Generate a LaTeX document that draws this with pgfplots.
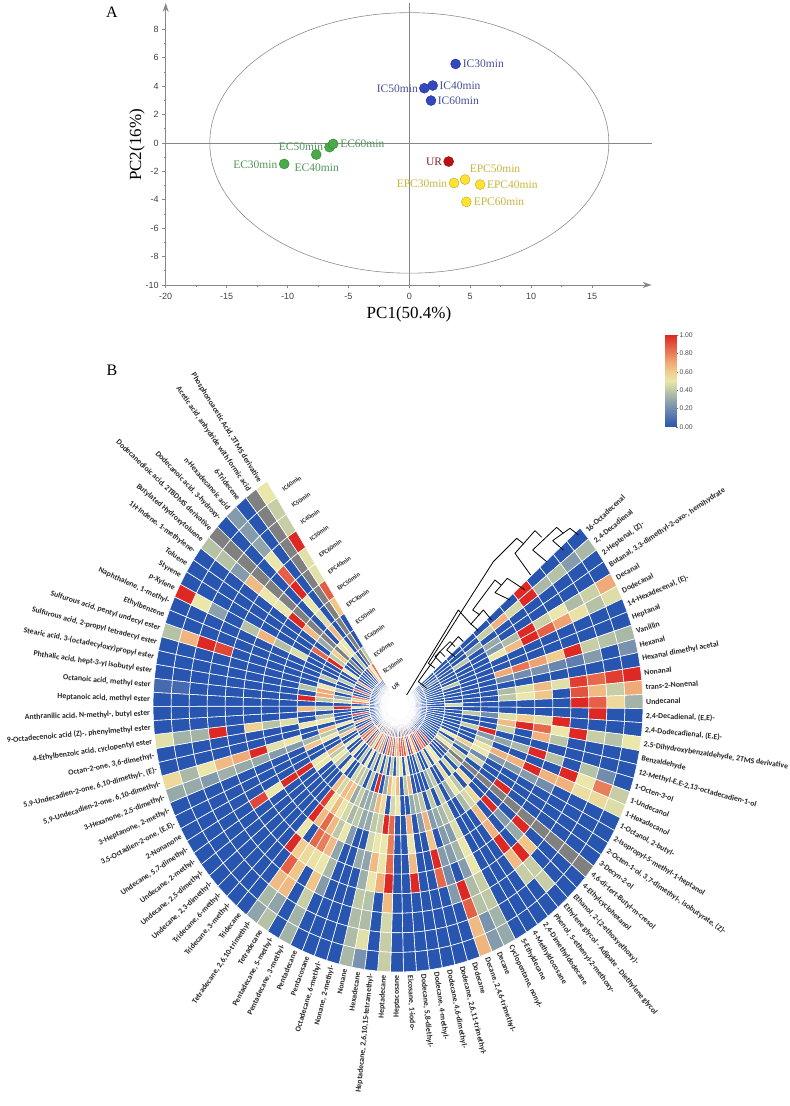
\documentclass[border=0pt]{standalone}
\usepackage{fontspec}
\setmainfont{Liberation Serif}
\setsansfont{Liberation Sans}
\newfontfamily\lblfont{Carlito}
\usepackage{pgfplots}
\usepackage{pgfplotstable}
\pgfplotsset{compat=1.18}
\usetikzlibrary{arrows.meta}

\definecolor{axgray}{RGB}{135,135,135}
\definecolor{icblue}{RGB}{52,72,190}
\definecolor{ecgreen}{RGB}{72,170,72}
\definecolor{urred}{RGB}{190,15,20}
\definecolor{epcyel}{RGB}{255,226,50}

\pgfplotsset{
  colormap={heatgray}{rgb255(0pt)=(128,128,128) rgb255(9pt)=(128,128,128)
    rgb255(10pt)=(40,85,175) rgb255(25pt)=(95,125,175) rgb255(40pt)=(150,170,170)
    rgb255(50pt)=(190,200,165) rgb255(60pt)=(235,230,170) rgb255(70pt)=(240,205,140)
    rgb255(80pt)=(240,170,120) rgb255(95pt)=(230,105,75) rgb255(110pt)=(222,40,35)},
  colormap={heatbar}{rgb255(0pt)=(40,85,175) rgb255(15pt)=(95,125,175) rgb255(30pt)=(150,170,170)
    rgb255(40pt)=(190,200,165) rgb255(50pt)=(235,230,170) rgb255(60pt)=(240,205,140)
    rgb255(70pt)=(240,170,120) rgb255(85pt)=(230,105,75) rgb255(100pt)=(222,40,35)},
}

% one row per compound (clockwise from 16-Octadecenal), one column per sample, -.1 = missing (grey)
\pgfplotstableread{
UR EC30 EC60 EC40 EC50 EPC30 EPC50 EPC40 EPC60 IC30 IC40 IC50 IC60
0 0 0 0 0 0 0 0 1 0 0 0 0
0 0 0 0 0 .42 .68 .45 1 .35 .38 .25 .35
0 0 0 0 .3 0 0 0 0 0 0 0 0
0 .2 0 .4 0 .3 0 0 0 0 0 0 0
0 0 0 0 0 .25 .36 1 .43 .5 .36 .43 .7
0 0 0 0 0 .5 .65 1 .87 .72 .52 .38 .47
0 0 0 0 0 0 0 0 0 0 0 0 0
0 0 .4 0 0 0 0 0 0 0 0 0 0
0 0 0 0 0 .7 .82 .72 .6 1 .42 .38 .35
0 0 0 0 0 .2 .2 .22 .18 .15 .25 0 .22
0 0 0 0 0 0 0 0 0 0 0 0 0
0 0 0 0 0 .36 .47 .65 .48 .95 .85 .95 1
0 0 0 0 0 .4 .5 .62 0 .9 .65 .42 .7
0 0 .45 0 0 0 0 0 0 1 .87 .55 .33
0 0 0 0 0 0 0 0 0 0 1 0 0
0 0 0 .4 .2 .47 .6 .47 1 0 0 0 0
0 0 0 0 0 .65 1 .85 .5 1 .42 .38 .5
0 0 0 0 0 .43 0 .68 .38 0 0 0 0
0 0 0 .42 1 0 0 0 0 0 0 0 0
0 0 0 0 .25 .28 .35 1 .38 0 .38 .2 0
0 0 0 0 .4 0 0 0 0 1 .5 .8 .42
0 0 0 0 .5 .68 .68 1 .68 .68 .53 .55 .47
0 0 .5 .6 .5 .25 .25 .25 .2 0 0 0 0
0 0 0 .3 .2 0 0 0 0 0 0 0 0
0 0 .4 0 .45 0 0 0 0 0 0 0 0
0 0 .5 .42 0 0 1 0 0 0 0 0 0
0 0 -.1 -.1 -.1 -.1 -.1 -.1 -.1 -.1 -.1 -.1 -.1
0 0 0 .4 0 0 0 0 1 0 0 0 0
0 0 0 0 .55 0 1 .25 .3 .62 0 0 0
0 .9 0 .45 0 .55 0 0 0 1 .42 .42 0
.8 0 .5 0 .4 .45 .65 .68 1 .65 .42 0 0
0 .9 .5 .55 .5 .35 0 0 0 0 0 0 0
0 .8 0 0 .3 0 0 0 0 0 0 0 0
.8 .9 .45 0 0 0 0 0 0 0 0 0 0
0 0 0 .4 .42 .42 .47 .5 .5 .42 .4 .33 .3
.8 .85 0 .3 0 .35 .25 .33 .25 .36 .38 .22 .25
0 .5 .4 0 .4 .3 .25 .25 0 1 .87 .65 .67
.8 .9 0 0 0 .25 0 .25 .2 .25 0 0 0
0 0 0 0 .4 .68 .62 1 .85 0 0 0 0
.8 .6 0 0 .35 .25 0 0 0 0 0 0 0
0 .9 .5 .65 .3 0 0 0 0 0 0 0 0
.7 .9 0 .4 0 .68 .5 .65 1 0 0 0 0
0 .9 .5 0 0 0 0 0 0 0 0 0 0
.7 .7 .45 .65 .5 0 0 0 0 0 0 0 0
0 .4 0 .5 .45 .85 .8 .85 1 .65 .45 .42 .42
.8 .9 .4 .65 0 1 .5 .5 .68 0 0 0 0
0 .3 0 .3 .55 .42 .5 .65 .5 .38 .36 .48 .22
.8 .9 .4 0 .65 .4 .45 .28 .32 .4 .36 .36 .35
0 .8 0 1 .35 .3 0 .3 0 0 0 0 0
.7 0 .45 0 .3 .3 0 0 0 0 0 0 0
0 .8 0 .4 .3 .4 .25 0 0 0 0 0 0
.7 .3 .4 0 .42 .35 .5 .28 .35 .25 0 0 0
0 .7 0 .4 .3 .45 .4 .65 .5 .62 .42 .33 .33
.8 .9 .5 .4 .62 .5 .65 .8 .52 0 0 0 0
0 .6 0 .45 .65 .65 .85 .85 .55 .62 .65 .28 .38
.7 .3 .4 0 .45 .5 .65 0 .6 .87 .65 .35 .28
0 .85 0 0 .65 .95 1 .5 1 0 0 0 0
.6 0 0 .5 0 0 0 0 0 0 0 0 0
0 .7 .5 0 0 0 0 0 0 0 0 0 0
.7 .9 0 .4 0 0 0 0 0 0 0 0 0
0 .8 0 .5 0 0 0 0 0 0 0 0 0
0 0 .5 .4 .5 0 0 0 0 0 0 0 0
0 0 0 .65 .5 1 1 .5 .93 0 0 0 0
0 .8 0 0 0 0 0 0 0 0 0 0 0
0 0 .6 0 0 0 0 0 0 0 0 0 0
0 0 .3 .5 .62 0 0 0 0 0 0 0 0
0 .7 0 .4 .35 .25 .25 .3 .3 .32 .25 .3 .3
0 0 .5 .65 0 .5 .48 1 .7 .65 .5 .35 .55
0 0 0 0 0 0 0 0 0 0 0 0 0
0 .9 0 .5 .5 0 0 0 0 0 0 0 0
0 0 0 .4 0 .47 .38 .58 0 1 .33 .33 .48
0 0 0 0 0 0 0 0 0 0 0 0 0
0 .5 1 .42 .65 0 0 0 0 0 0 0 0
0 0 0 0 0 0 0 0 0 0 0 0 0
0 .8 .45 .4 1 0 0 0 0 0 0 .08 .08
0 .6 .3 .7 0 0 0 0 0 0 0 0 0
0 .8 0 .7 .38 0 0 0 0 0 0 0 0
0 0 .4 .5 0 0 0 0 0 0 0 0 0
0 0 0 0 0 0 0 0 0 .93 1 .67 .38
0 .85 0 .4 0 0 0 0 0 0 0 0 0
0 0 .4 0 0 0 0 0 0 0 0 0 0
0 0 0 0 0 .47 .37 .67 .38 0 .27 .5 1
0 .7 0 0 0 0 0 0 0 0 0 0 0
0 0 .5 1 .85 0 0 0 0 0 0 0 0
0 0 0 .4 0 0 0 0 0 0 0 0 0
0 0 0 .6 .3 .65 1 .5 .5 .65 .25 .38 .38
0 0 -.1 -.1 -.1 -.1 -.1 -.1 -.1 -.1 -.1 -.1 -.1
0 0 0 .5 0 0 0 0 0 0 0 0 0
0 0 .4 .5 .65 .47 .5 1 .87 .5 .28 .25 .25
0 .7 0 0 0 0 0 0 0 0 0 0 0
0 .5 -.1 -.1 -.1 -.1 -.1 -.1 -.1 -.1 -.1 -.1 -.1
0 .85 .4 0 0 .62 .88 .48 .48 1 .42 .42 .5
}\heatdata

% every table cell becomes one patch, (angle,radius)[value]
\def\cellpts{}
\pgfplotsforeachungrouped \s in {0,...,91}{%
  \pgfmathsetmacro\ta{42-3.04*\s}%
  \pgfmathsetmacro\tb{42-3.04*(\s+1)}%
  \pgfplotsforeachungrouped \j in {0,...,12}{%
    \pgfplotstablegetelem{\s}{[index]\j}\of\heatdata
    \let\v\pgfplotsretval
    \pgfmathsetmacro\ra{.6+\j}%
    \pgfmathsetmacro\rb{1.6+\j}%
    \xdef\cellpts{\cellpts (\ta,\ra)[\v](\tb,\ra)[\v](\tb,\rb)[\v](\ta,\rb)[\v]}%
  }%
}
\newcommand\plotcells[1]{\addplot[patch,patch type=rectangle,data cs=polar,shader=faceted,
  faceted color=white,line width=.6pt,point meta=explicit] coordinates {#1};}

\begin{document}
\begin{tikzpicture}[x=1pt,y=1pt]
\useasboundingbox (0,0) rectangle (790,1106);

% --- panel A
\begin{axis}[at={(165.7pt,821pt)},anchor=south west,scale only axis,width=486pt,height=282pt,
  xmin=-20,xmax=19.9,ymin=-10,ymax=9.85,
  axis lines=left,axis line style={axgray,line width=.8pt,-{Stealth[length=9pt,width=6pt]}},
  xtick={-20,-15,...,15},ytick={-10,-8,...,8},
  minor x tick num=1,minor y tick num=1,
  tick align=outside,tick style={axgray,line width=.6pt},
  major tick length=3.5pt,minor tick length=2pt,
  /pgf/number format/assume math mode=true,
  tick label style={font=\sffamily\fontsize{9}{9}\selectfont,text=black!75},
  xticklabel style={yshift=-1pt},
  clip=false]
\draw[axgray,line width=.7pt] (axis cs:-20,0) -- (axis cs:19.9,0);
\draw[axgray,line width=.7pt] (axis cs:0,-10) -- (axis cs:0,9.85);
\draw[black!45,line width=.6pt] (axis cs:0,0) ellipse [x radius=16.38,y radius=9.17];
\addplot[only marks,mark=*,mark size=5pt,mark options={fill=icblue,draw=icblue!75!black}] coordinates {
(3.8,5.56) (1.92,4.04) (1.23,3.85) (1.78,2.98)};
\addplot[only marks,mark=*,mark size=5pt,mark options={fill=ecgreen,draw=ecgreen!75!black}] coordinates {
(-10.27,-1.48) (-7.64,-.82) (-6.55,-.3) (-6.25,-.07)};
\addplot[only marks,mark=*,mark size=5pt,mark options={fill=urred,draw=urred!75!black}] coordinates {
(3.23,-1.31)};
\addplot[only marks,mark=*,mark size=5pt,mark options={fill=epcyel,draw=epcyel!75!black}] coordinates {
(3.67,-2.82) (4.58,-2.58) (5.81,-2.93) (4.68,-4.15)};
\end{axis}

% labels of panel A, in picture units
\begin{scope}[font=\fontsize{11.5}{12}\selectfont]
\foreach \x/\y/\t in {483.3/64/IC30min,460/86/IC40min,397.3/88.3/IC50min,458.3/101/IC60min}
  \node[text={rgb,255:red,70;green,80;blue,150}] at (\x,1106-\y) {\t};
\foreach \x/\y/\t in {362.3/144/EC60min,301/147/EC50min,316.7/168/EC40min,255.3/164.7/EC30min}
  \node[text={rgb,255:red,80;green,150;blue,90}] at (\x,1106-\y) {\t};
\node[text={rgb,255:red,140;green,30;blue,40}] at (434,1106-161.7) {UR};
\foreach \x/\y/\t in {495/168.3/EPC50min,422/183.3/EPC30min,512.3/185/EPC40min,499/202/EPC60min}
  \node[text={rgb,255:red,200;green,180;blue,60}] at (\x,1106-\y) {\t};
\end{scope}
\node[font=\fontsize{17}{17}\selectfont] at (409,1106-314) {PC1(50.4\%)};
\node[font=\fontsize{17}{17}\selectfont,rotate=90] at (137,1106-145) {PC2(16\%)};
\node[font=\fontsize{16}{16}\selectfont] at (112,1106-12) {A};
\node[font=\fontsize{16}{16}\selectfont] at (112,1106-370) {B};

% --- panel B
\begin{axis}[at={(153pt,134pt)},anchor=south west,scale only axis,width=490pt,height=532pt,
  xmin=-13.6,xmax=13.6,ymin=-13.6,ymax=13.6,hide axis,clip=false,
  colormap name=heatgray,point meta min=-.1,point meta max=1]
\expandafter\plotcells\expandafter{\cellpts}
\end{axis}

% hub
\fill[white,opacity=.35] (398,400) ellipse [x radius=24,y radius=25];
\fill[white,opacity=.5] (398,400) ellipse [x radius=18,y radius=19];
\fill[white] (398,400) ellipse [x radius=12,y radius=13];

% compound names round the rim
\begin{scope}[font=\lblfont\bfseries\fontsize{7.8}{9}\selectfont,text=black!85]
\foreach \lab [count=\i] in {16-Octadecenal,{2,4-Decadienal},{2-Heptenal, (Z)-},{Butanal, 3,3-dimethyl-2-oxo-, hemihydrate},
Decanal,Dodecanal,{14-Hexadecenal, (E)-},Heptanal,Vanillin,Hexanal,Hexanal dimethyl acetal,Nonanal,trans-2-Nonenal,Undecanal,
{2,4-Decadienal, (E,E)-},{2,4-Dodecadienal, (E,E)-},{2,5-Dihydroxybenzaldehyde, 2TMS derivative},Benzaldehyde,
{12-Methyl-E,E-2,13-octadecadien-1-ol},1-Octen-3-ol,1-Undecanol,1-Hexadecanol,{1-Octanol, 2-butyl-},2-Isopropyl-5-methyl-1-heptanol,
{2-Octen-1-ol, 3,7-dimethyl-, isobutyrate, (Z)-},3-Decyn-2-ol,{4,6-di-tert-Butyl-m-cresol},4-Ethylcyclohexanol,
{Ethanol, 2-(2-ethoxyethoxy)-},Ethylene glycol - Adipate - Diethylene glycol,{Phenol, 5-ethenyl-2-methoxy-},{2,4-Dimethyldodecane},
4-Methyldocosane,5-Ethyldecane,{Cyclopentane, nonyl-},Decane,{Decane, 2,4,6-trimethyl-},Dodecane,{Dodecane, 2,6,11-trimethyl-},
{Dodecane, 4,6-dimethyl-},{Dodecane, 4-methyl-},{Dodecane, 5,8-diethyl-},{Eicosane, 1-iodo-},Heptacosane,Heptadecane,
{Heptadecane, 2,6,10,15-tetramethyl-},Hexadecane,Nonane,{Nonane, 2-methyl-},{Octadecane, 6-methyl-},Pentacosane,Pentadecane,
{Pentadecane, 3-methyl-},{Pentadecane, 5-methyl-},Tetradecane,{Tetradecane, 2,6,10-trimethyl-},Tridecane,{Tridecane, 3-methyl-},
{Tridecane, 6-methyl-},{Undecane, 2,3-dimethyl-},{Undecane, 2,5-dimethyl-},{Undecane, 2-methyl-},{Undecane, 5,7-dimethyl-},
2-Nonanone,{3,5-Octadien-2-one, (E,E)-},{3-Heptanone, 2-methyl-},{3-Hexanone, 2,5-dimethyl-},{5,9-Undecadien-2-one, 6,10-dimethyl-},
{5,9-Undecadien-2-one, 6,10-dimethyl-, (E)-},{Octan-2-one, 3,6-dimethyl-},{4-Ethylbenzoic acid, cyclopentyl ester},
{9-Octadecenoic acid (Z)-, phenylmethyl ester},{Anthranilic acid, N-methyl-, butyl ester},{Heptanoic acid, methyl ester},
{Octanoic acid, methyl ester},{Phthalic acid, hept-3-yl isobutyl ester},{Stearic acid, 3-(octadecyloxy)propyl ester},
{Sulfurous acid, 2-propyl tetradecyl ester},{Sulfurous acid, pentyl undecyl ester},Ethylbenzene,{Naphthalene, 1-methyl-},p-Xylene,
Styrene,Toluene,{1H-Indene, 1-methylene-},Butylated Hydroxytoluene,{Dodecanedioic acid, 2TBDMS derivative},{Dodecanoic acid, 3-hydroxy-},
n-Hexadecanoic acid,6-Tridecene,{Acetic acid, anhydride with formic acid},{Phosphonoacetic Acid, 3TMS derivative}}{
  \pgfmathsetmacro\t{42-3.04*(\i-.5)}
  \pgfmathsetmacro\px{398+247*cos(\t)}
  \pgfmathsetmacro\py{400+268.5*sin(\t)}
  \pgfmathsetmacro\ang{atan2(1.086*sin(\t),cos(\t))}
  \ifnum\i<44
    \node[anchor=west,rotate=\ang,inner sep=1pt] at (\px,\py) {\lab};
  \else
    \pgfmathsetmacro\angb{\ang+180}
    \node[anchor=east,rotate=\angb,inner sep=1pt] at (\px,\py) {\lab};
  \fi
}
\end{scope}

% sample names along the gap
\begin{scope}[font=\lblfont\bfseries\fontsize{6.3}{7}\selectfont,text=black!85]
\foreach \lab [count=\j from 0] in {UR,EC30min,EC60min,EC40min,EC50min,EPC30min,EPC50min,EPC40min,EPC60min,IC30min,IC40min,IC50min,IC60min}{
  \pgfmathsetmacro\px{398+18.01*(\j+1.1)*cos(122)+5+.4*\j}
  \pgfmathsetmacro\py{400+19.56*(\j+1.1)*sin(122)-1}
  \node[anchor=west,rotate=35,inner sep=0pt] at (\px,\py) {\lab};
}
\end{scope}

% dendrogram
\begin{scope}[shift={(400,606)},x=.3333pt,y=-.3333pt,black,line width=.8pt,line join=round]
\draw (535,105)--(510,85)--(458,122)--(490,150);
\draw (490,100)--(470,82)--(398,150)--(440,185);
\draw (425,112)--(405,92)--(345,160)--(392,225);
\draw (372,132)--(350,115)--(280,185)--(85,490)--(105,505);
\draw (375,270)--(322,235)--(285,278)--(330,300);
\draw (303,255)--(285,240)--(218,330)--(240,345);
\draw (275,360)--(250,330)--(213,372)--(235,392);
\draw (215,375)--(175,330)--(20,585);
\draw (190,425)--(175,410)--(140,450)--(165,470);
\draw (165,440)--(150,425)--(105,470)--(125,490);
\draw (135,470)--(120,455)--(55,545)--(80,565);
\end{scope}

% colour bar
\begin{axis}[at={(665pt,679pt)},anchor=south west,scale only axis,width=11pt,height=92pt,
  xmin=0,xmax=1,ymin=0,ymax=1,axis line style={draw=none},xtick=\empty,
  ytick={0,.2,...,1},ytick pos=right,yticklabel pos=right,
  yticklabel style={/pgf/number format/fixed,/pgf/number format/fixed zerofill,/pgf/number format/precision=2,
    /pgf/number format/assume math mode=true,font=\sffamily\fontsize{6.8}{7}\selectfont,text=black!70,xshift=-2pt},
  tick align=outside,major tick length=2pt,tick style={black!60,line width=.4pt},
  colormap name=heatbar,point meta min=0,point meta max=1]
\addplot[patch,patch type=rectangle,shader=interp,point meta=explicit] coordinates {(0,0)[0](1,0)[0](1,1)[1](0,1)[1]};
\end{axis}
\end{tikzpicture}
\end{document}
